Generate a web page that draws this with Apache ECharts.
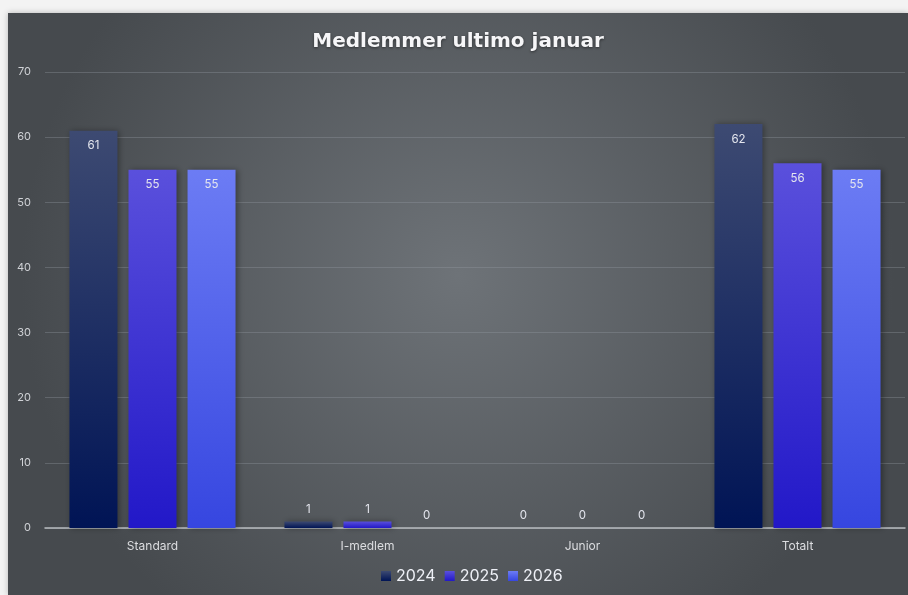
<!DOCTYPE html>
<html><head><meta charset="utf-8">
<script src="https://cdn.jsdelivr.net/npm/echarts@6/dist/echarts.min.js"></script>
<style>
html,body{margin:0;padding:0;background:#f3f3f3;width:908px;height:595px;overflow:hidden;}
#c{position:absolute;left:8px;top:13px;width:900px;height:582px;box-shadow:0 0 6px rgba(0,0,0,0.25);}
</style></head>
<body><div id="c"></div>
<script>
const categories = ['Standard', 'I-medlem', 'Junior', 'Totalt'];
const seriesNames = ['2024', '2025', '2026'];
const values2024 = [61, 1, 0, 62];
const values2025 = [55, 1, 0, 56];
const values2026 = [55, 0, 0, 55];
const yTicks = {min: 0, max: 70, interval: 10};

const gradients = [
  ['#3d4a72', '#001455'],
  ['#5a50dc', '#2218c8'],
  ['#6c7cf4', '#3646e0']
];
function grad(c){
  return new echarts.graphic.LinearGradient(0,0,0,1,[{offset:0,color:c[0]},{offset:1,color:c[1]}]);
}
const allValues = [values2024, values2025, values2026];
const chart = echarts.init(document.getElementById('c'));
chart.setOption({
  backgroundColor: new echarts.graphic.RadialGradient(0.5,0.45,0.75,[{offset:0,color:'#6e7378'},{offset:1,color:'#464a4e'}]),
  title: {text:'Medlemmer ultimo januar', left:'center', top:14,
    textStyle:{color:'#f6f6f8', fontSize:20, fontWeight:'bold', fontFamily:'DejaVu Sans', textShadowColor:'rgba(0,0,0,0.5)', textShadowBlur:3, textShadowOffsetY:1}},
  legend: {bottom: 6, left: 368, icon:'rect', itemWidth:10, itemHeight:10, itemGap:9,
    textStyle:{color:'#eef0f6', fontSize:16, fontFamily:'Inter'}, data: seriesNames},
  grid: {left:37, right:3, top:59, bottom:67},
  xAxis: {type:'category', data: categories,
    axisLine:{lineStyle:{color:'#b8bcc0', width:1.5}}, axisTick:{show:false},
    axisLabel:{color:'#dcdde0', fontSize:12, margin:12, fontFamily:'Inter'}},
  yAxis: {type:'value', min:yTicks.min, max:yTicks.max, interval:yTicks.interval,
    axisLabel:{color:'#d0d2d6', fontSize:11, margin:14, fontFamily:'Inter'},
    splitLine:{lineStyle:{color:'rgba(150,156,162,0.35)', width:1}}},
  series: seriesNames.map((n,i)=>({
    name:n, type:'bar', barWidth:48, barGap:'23%',
    itemStyle:{color:grad(gradients[i]), shadowColor:'rgba(0,0,0,0.35)', shadowBlur:6, shadowOffsetX:2},
    data: allValues[i].map(v=>({value:v, label:{position: v>5?'insideTop':'top', distance: v>5?9:6}})),
    label:{show:true, color:'#e4e6ee', fontSize:11.5, fontFamily:'Inter'}
  }))
});
</script></body></html>
